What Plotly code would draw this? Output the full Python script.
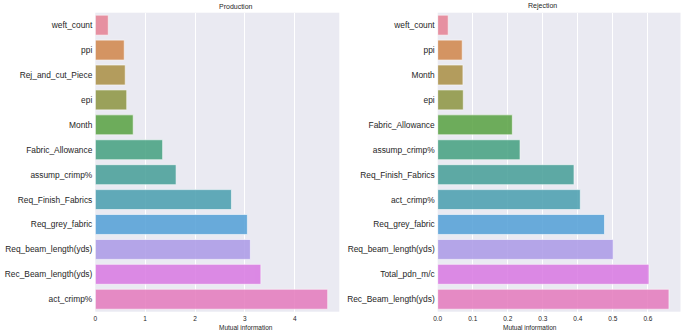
import math
import colorsys
import plotly.graph_objects as go

# ---------------- data ----------------
prod_features = ["weft_count", "ppi", "Rej_and_cut_Piece", "epi", "Month",
                 "Fabric_Allowance", "assump_crimp%", "Req_Finish_Fabrics",
                 "Req_grey_fabric", "Req_beam_length(yds)", "Rec_Beam_length(yds)",
                 "act_crimp%"]
prod_mi = [0.26, 0.58, 0.60, 0.63, 0.76, 1.35, 1.62, 2.73, 3.05, 3.11, 3.32, 4.66]

rej_features = ["weft_count", "ppi", "Month", "epi", "Fabric_Allowance",
                "assump_crimp%", "Req_Finish_Fabrics", "act_crimp%",
                "Req_grey_fabric", "Req_beam_length(yds)", "Total_pdn_m/c",
                "Rec_Beam_length(yds)"]
rej_mi = [0.030, 0.070, 0.072, 0.073, 0.213, 0.235, 0.389, 0.407, 0.476, 0.501, 0.603, 0.660]

prod_ticks = [0, 1, 2, 3, 4]
rej_ticks = [0.0, 0.1, 0.2, 0.3, 0.4, 0.5, 0.6]

# ---------------- seaborn-like husl palette ----------------
_M = [[3.2406, -1.5372, -0.4986],
      [-0.9689, 1.8758, 0.0415],
      [0.0557, -0.2040, 1.0570]]
_refU, _refV = 0.19784, 0.46834


def _max_chroma(L, H):
    hrad = math.radians(H)
    sinH, cosH = math.sin(hrad), math.cos(hrad)
    sub1 = (L + 16) ** 3 / 1560896.0
    sub2 = sub1 if sub1 > 0.008856 else L / 903.3
    result = float("inf")
    for m1, m2, m3 in _M:
        top = (0.99915 * m1 + 1.05122 * m2 + 1.14460 * m3) * sub2
        rbottom = 0.86330 * m3 - 0.17266 * m2
        lbottom = 0.12949 * m3 - 0.38848 * m1
        bottom = (rbottom * sinH + lbottom * cosH) * sub2
        for t in (0.0, 1.0):
            C = L * (top - 1.05122 * t) / (bottom + 0.17266 * sinH * t)
            if 0.0 < C < result:
                result = C
    return result


def _from_linear(c):
    return 12.92 * c if c <= 0.0031308 else 1.055 * c ** (1 / 2.4) - 0.055


def husl_to_rgb(h, s, l):
    C = _max_chroma(l, h) / 100.0 * s
    hr = math.radians(h)
    U, V = math.cos(hr) * C, math.sin(hr) * C
    t = (l + 16) / 116.0
    Y = t ** 3 if t ** 3 > 0.008856 else (116 * t - 16) / 903.3
    varU = U / (13 * l) + _refU
    varV = V / (13 * l) + _refV
    X = 0 - (9 * Y * varU) / ((varU - 4) * varV - varU * varV)
    Z = (9 * Y - 15 * varV * Y - varV * X) / (3 * varV)
    rgb = [_from_linear(r[0] * X + r[1] * Y + r[2] * Z) for r in _M]
    return [min(max(c, 0.0), 1.0) for c in rgb]


def palette(n, sat=0.75):
    out = []
    for i in range(n):
        h = ((i / n + 0.01) % 1) * 359
        r, g, b = husl_to_rgb(h, 0.9 * 99, 0.65 * 99)
        hh, ll, ss = colorsys.rgb_to_hls(r, g, b)
        r, g, b = colorsys.hls_to_rgb(hh, ll, ss * sat)
        out.append("rgb(%d,%d,%d)" % (round(r * 255), round(g * 255), round(b * 255)))
    return out


colors = palette(12)

# ---------------- figure ----------------
FONT = "Liberation Sans, Arial, sans-serif"
TXT = "#262626"
W, H = 685, 333

fig = go.Figure()
fig.add_trace(go.Bar(x=prod_mi, y=prod_features, orientation="h",
                     marker=dict(color=colors, opacity=0.85,
                                 line=dict(color="white", width=0.6)),
                     width=0.8, xaxis="x", yaxis="y", showlegend=False))
fig.add_trace(go.Bar(x=rej_mi, y=rej_features, orientation="h",
                     marker=dict(color=colors, opacity=0.85,
                                 line=dict(color="white", width=0.6)),
                     width=0.8, xaxis="x2", yaxis="y2", showlegend=False))

ydom = [(H - 311.7) / H, (H - 12.7) / H]
xd1 = [95.3 / W, 339.3 / W]
xd2 = [437.7 / W, 680.5 / W]

common_x = dict(showgrid=True, gridcolor="white", gridwidth=1, zeroline=False,
                showline=False, ticks="", automargin=False, ticklabelstandoff=2,
                tickfont=dict(size=6.5, color=TXT, family=FONT))
common_y = dict(showgrid=False, zeroline=False, showline=False, ticks="",
                automargin=False, tickfont=dict(size=8.4, color=TXT, family=FONT),
                ticklabelstandoff=2)

fig.update_layout(
    template="none",
    width=W, height=H,
    margin=dict(l=0, r=0, t=0, b=0, autoexpand=False),
    paper_bgcolor="white",
    plot_bgcolor="#EAEAF2",
    bargap=0.2,
    xaxis=dict(domain=xd1, range=[0, max(prod_mi) * 1.05], tickvals=prod_ticks,
               anchor="y", **common_x),
    yaxis=dict(domain=ydom, categoryorder="array", categoryarray=prod_features,
               range=[11.5, -0.5], anchor="x", **common_y),
    xaxis2=dict(domain=xd2, range=[0, max(rej_mi) * 1.05], tickvals=rej_ticks,
                tickformat=".1f", anchor="y2", **common_x),
    yaxis2=dict(domain=ydom, categoryorder="array", categoryarray=rej_features,
                range=[11.5, -0.5], anchor="x2", **common_y),
    annotations=[
        dict(text="Production", x=sum(xd1) / 2, y=1 - 6.5 / H, xref="paper", yref="paper",
             showarrow=False, font=dict(size=7, color=TXT, family=FONT), yanchor="middle"),
        dict(text="Rejection", x=sum(xd2) / 2, y=1 - 6.5 / H, xref="paper", yref="paper",
             showarrow=False, font=dict(size=7, color=TXT, family=FONT), yanchor="middle"),
        dict(text="Mutual information", x=sum(xd1) / 2, y=1 - 327.5 / H, xref="paper",
             yref="paper", showarrow=False, font=dict(size=6.5, color=TXT, family=FONT),
             yanchor="middle"),
        dict(text="Mutual information", x=sum(xd2) / 2, y=1 - 327.5 / H, xref="paper",
             yref="paper", showarrow=False, font=dict(size=6.5, color=TXT, family=FONT),
             yanchor="middle"),
    ],
)

fig.write_html("out.html",
               config={"displayModeBar": False},
               post_script="document.body.style.margin='0';document.body.style.overflow='hidden';")
